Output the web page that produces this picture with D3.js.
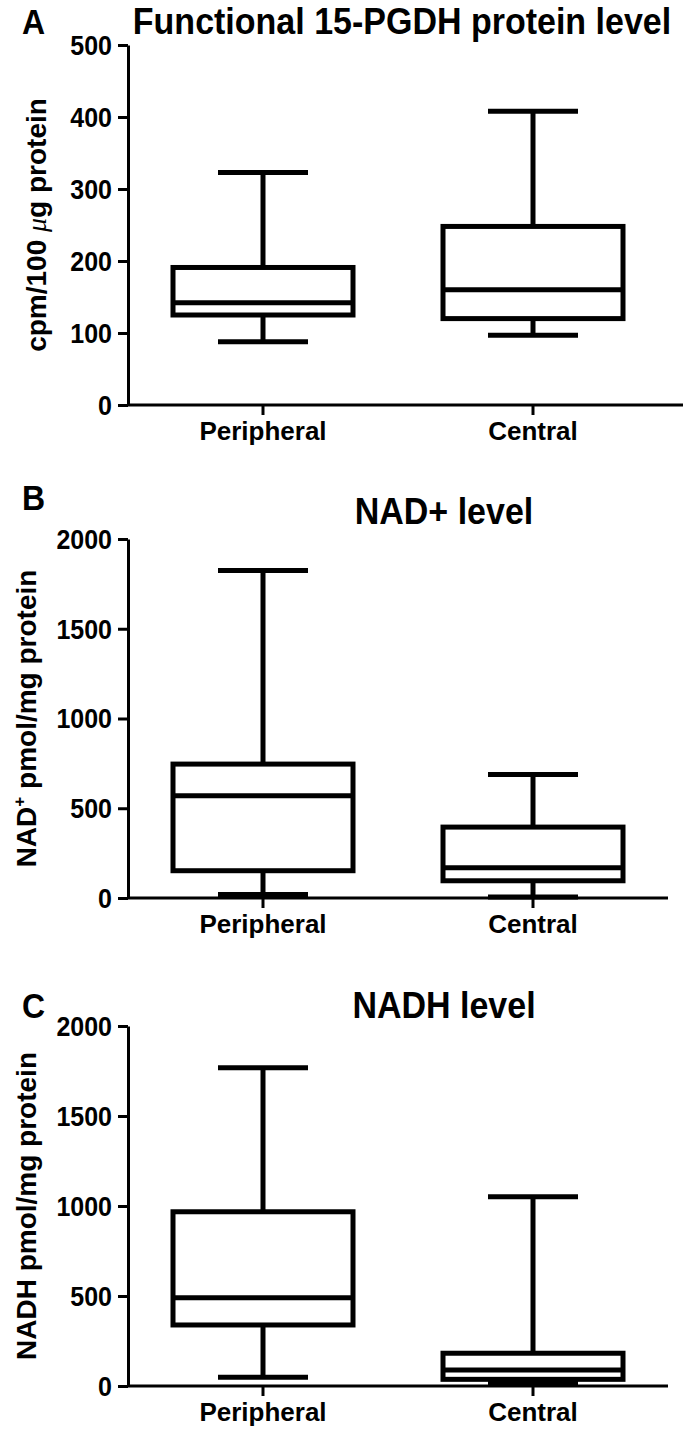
<!DOCTYPE html>
<html><head><meta charset="utf-8">
<script src="https://cdn.jsdelivr.net/npm/d3@7/dist/d3.min.js"></script>
<style>
body{margin:0;background:#fff;}
svg text{font-family:"Liberation Sans",Arial,Helvetica,sans-serif;font-weight:bold;fill:#000;}
</style></head>
<body>
<svg id="chart" width="685" height="1429"></svg>
<script>
// ---- data ----
const categories = ["Peripheral", "Central"];
const panelLetters = ["A", "B", "C"];
const panelTitles = ["Functional 15-PGDH protein level", "NAD+ level", "NADH level"];
const yMaxima = [500, 2000, 2000];
const ticksA = [0, 100, 200, 300, 400, 500];
const ticksB = [0, 500, 1000, 1500, 2000];
const ticksC = [0, 500, 1000, 1500, 2000];
// [min, q1, median, q3, max]
const pgdhPeripheral = [88, 125, 142, 191, 323];
const pgdhCentral = [97, 120, 160, 248, 408];
const nadPeripheral = [20, 152, 570, 746, 1825];
const nadCentral = [5, 96, 168, 395, 688];
const nadhPeripheral = [48, 339, 490, 968, 1768];
const nadhCentral = [15, 37, 89, 182, 1052];

const panelData = [
  [pgdhPeripheral, pgdhCentral],
  [nadPeripheral, nadCentral],
  [nadhPeripheral, nadhCentral]
];
const panelTicks = [ticksA, ticksB, ticksC];

// ---- layout ----
const layout = [
  {y0: 405, y1: 45, letterY: 34, titleY: 34, titleX: 402, labelX: 46, axisEnd: 683},
  {y0: 898, y1: 539, letterY: 510, titleY: 524, titleX: 444, labelX: 36, axisEnd: 668},
  {y0: 1386, y1: 1026, letterY: 1018, titleY: 1018, titleX: 444, labelX: 36, axisEnd: 668}
];
const xLeft = 128, xRight = 668;
const stretch = 1.1;

const svg = d3.select("#chart");
svg.append("rect").attr("width", 685).attr("height", 1429).attr("fill", "#fff");

const x = d3.scaleBand().domain(categories).range([xLeft, xRight]).padding(0);
const boxW = x.bandwidth() * 2 / 3;
const capW = x.bandwidth() / 3;

function stretchedText(px, py, size, anchor) {
  return svg.append("g").attr("transform", `translate(${px},${py}) scale(1,${stretch})`)
    .append("text").attr("font-size", size).attr("text-anchor", anchor || "start");
}

panelData.forEach((series, i) => {
  const L = layout[i];
  const y = d3.scaleLinear().domain([0, yMaxima[i]]).range([L.y0, L.y1]);
  const g = svg.append("g");

  // y axis
  const yAxis = d3.axisLeft(y).tickValues(panelTicks[i]).tickFormat(d3.format("d"))
    .tickSize(10).tickSizeOuter(0).tickPadding(6);
  const ya = g.append("g").attr("transform", `translate(${xLeft},0)`).call(yAxis);
  ya.select(".domain").attr("stroke", "#000").attr("stroke-width", 3);
  ya.selectAll(".tick line").attr("stroke", "#000").attr("stroke-width", 3);
  ya.selectAll(".tick text").attr("font-size", 25).attr("font-family", null).attr("fill", "#000")
    .attr("transform", `scale(1,${stretch})`).attr("dy", "0.34em");

  // x axis
  const xAxis = d3.axisBottom(x).tickSize(10).tickSizeOuter(0).tickPadding(7);
  const xa = g.append("g").attr("transform", `translate(0,${L.y0})`).call(xAxis);
  xa.select(".domain").remove();
  g.append("line").attr("x1", xLeft).attr("x2", L.axisEnd).attr("y1", L.y0).attr("y2", L.y0)
    .attr("stroke", "#000").attr("stroke-width", 3);
  xa.selectAll(".tick line").attr("stroke", "#000").attr("stroke-width", 3);
  xa.selectAll(".tick text").attr("font-size", 26).attr("font-family", null).attr("fill", "#000");

  // boxes
  series.forEach((s, j) => {
    const cx = x(categories[j]) + x.bandwidth() / 2;
    const [mn, q1, md, q3, mx] = s;
    const bg = g.append("g").attr("stroke", "#000").attr("stroke-width", 5).attr("fill", "none");
    bg.append("line").attr("x1", cx).attr("x2", cx).attr("y1", y(q3)).attr("y2", y(mx));
    bg.append("line").attr("x1", cx).attr("x2", cx).attr("y1", y(q1)).attr("y2", y(mn));
    bg.append("line").attr("x1", cx - capW / 2).attr("x2", cx + capW / 2).attr("y1", y(mx)).attr("y2", y(mx));
    bg.append("line").attr("x1", cx - capW / 2).attr("x2", cx + capW / 2).attr("y1", y(mn)).attr("y2", y(mn));
    bg.append("rect").attr("x", cx - boxW / 2).attr("width", boxW)
      .attr("y", y(q3)).attr("height", y(q1) - y(q3)).attr("fill", "#fff");
    bg.append("line").attr("x1", cx - boxW / 2).attr("x2", cx + boxW / 2).attr("y1", y(md)).attr("y2", y(md));
  });

  // panel letter & title
  stretchedText(22, L.letterY, 32).text(panelLetters[i]);
  stretchedText(L.titleX, L.titleY, 34, "middle").text(panelTitles[i]);

  // y label
  const midY = (L.y0 + L.y1) / 2;
  const lab = svg.append("text").attr("transform", `translate(${L.labelX},${midY}) rotate(-90)`)
    .attr("text-anchor", "middle").attr("font-size", 28);
  if (i === 0) {
    lab.append("tspan").text("cpm/100 ");
    lab.append("tspan").attr("font-family", "'Liberation Serif','DejaVu Serif',serif").attr("font-style", "italic").attr("font-weight", "normal").text("μ");
    lab.append("tspan").text("g protein");
  } else if (i === 1) {
    lab.append("tspan").text("NAD");
    lab.append("tspan").attr("font-size", 17).attr("dy", -11).text("+");
    lab.append("tspan").attr("dy", 11).text(" pmol/mg protein");
  } else {
    lab.append("tspan").text("NADH pmol/mg protein");
  }
});
</script>
</body></html>
